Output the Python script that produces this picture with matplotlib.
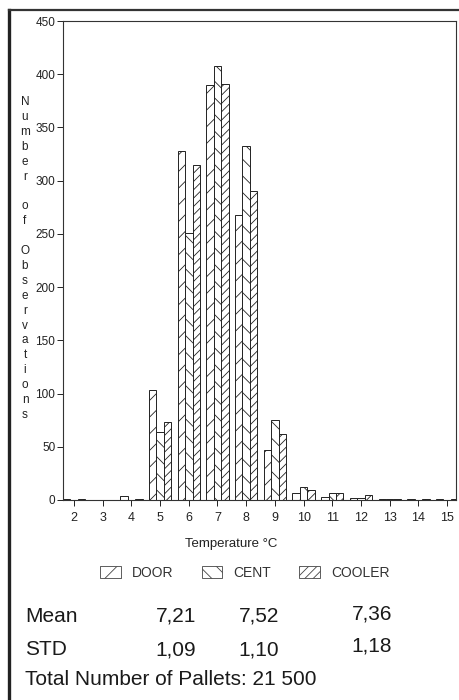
import matplotlib
matplotlib.use("Agg")
import matplotlib.pyplot as plt
import numpy as np
from matplotlib.patches import Patch
from matplotlib.lines import Line2D

plt.rcParams['font.family'] = ['Liberation Sans', 'DejaVu Sans']
plt.rcParams['hatch.linewidth'] = 0.6
plt.rcParams['hatch.color'] = '#333333'

# temperature classes (deg C) and counts per location
temps = [2, 3, 4, 5, 6, 7, 8, 9, 10, 11, 12, 13, 14, 15]
door = [0.5, 0.3, 3.5, 103, 328, 390, 268, 47, 7, 3, 1.5, 1, 0.5, 0.5]
cent = [0.3, 0.2, 0.2, 64, 251, 408, 333, 75, 12, 6.5, 2, 0.5, 0.3, 0.2]
cooler = [0.5, 0.3, 1, 73, 315, 391, 290, 62, 9, 6.5, 4.5, 1, 0.5, 0.5]

series_names = ['DOOR', 'CENT', 'COOLER']
hatches = ['//', '\\\\', '////']
means = ['7,21', '7,52', '7,36']
stds = ['1,09', '1,10', '1,18']
total_text = 'Total Number of Pallets: 21 500'
ylabel_text = 'Number of Observations'

W, H = 460, 700
fig = plt.figure(figsize=(W / 100, H / 100), dpi=100)
fig.patch.set_facecolor('white')

ax = fig.add_axes([63 / W, 1 - 500 / H, (456 - 63) / W, (500 - 21) / H])
x = np.array(temps, dtype=float)
bw = 0.26
for i, (vals, h) in enumerate(zip([door, cent, cooler], hatches)):
    ax.bar(x + (i - 1) * bw, vals, width=bw, facecolor='white', edgecolor='#222222',
           linewidth=0.7, hatch=h)

ax.set_xlim(1.617, 15.31)
ax.set_ylim(0, 450)
ax.set_xticks(temps)
ax.set_yticks(range(0, 451, 50))
ax.tick_params(axis='x', length=4.5, width=0.7, pad=4, labelsize=9, colors='#222222')
ax.tick_params(axis='y', length=4, width=0.7, pad=1.5, labelsize=8.5, colors='#222222')
for s in ax.spines.values():
    s.set_linewidth(0.8)
    s.set_color('#333333')

fig.text(231 / W, 1 - 547 / H, 'Temperature \u00b0C', ha='center', va='baseline',
         fontsize=9.5, color='#222222')

# stacked vertical y label
y0 = 102
for k, ch in enumerate(ylabel_text):
    if ch == ' ':
        continue
    fig.text(25 / W, 1 - (y0 + k * 14.9) / H, ch, ha='center', va='center',
             fontsize=8.5, color='#222222')

handles = [Patch(facecolor='white', edgecolor='#444444', linewidth=0.6, hatch=h)
           for h in hatches]
fig.legend(handles, series_names, loc='center', bbox_to_anchor=(245 / W, 1 - 573 / H),
           ncol=3, frameon=False, fontsize=10, handlelength=1.5, handleheight=1.0,
           handletextpad=0.8, columnspacing=2.0, labelcolor='#333333')

# summary statistics
cols = [176, 259, 372]
fig.text(25 / W, 1 - 622 / H, 'Mean', fontsize=15, va='baseline', color='#1a1a1a')
fig.text(25 / W, 1 - 655 / H, 'STD', fontsize=15, va='baseline', color='#1a1a1a')
for i, (m, s) in enumerate(zip(means, stds)):
    off = -3 if i == 2 else 0
    fig.text(cols[i] / W, 1 - (622 + off) / H, m, fontsize=15, ha='center',
             va='baseline', color='#1a1a1a')
    fig.text(cols[i] / W, 1 - (655 + off) / H, s, fontsize=15, ha='center',
             va='baseline', color='#1a1a1a')
fig.text(25 / W, 1 - 685 / H, total_text, fontsize=15, va='baseline', color='#1a1a1a')

# page frame (left and top rules)
fig.add_artist(Line2D([9.5 / W, 9.5 / W], [0, 1 - 10 / H], color='#222222', linewidth=2.4))
fig.add_artist(Line2D([9.5 / W, 1], [1 - 10 / H, 1 - 10 / H], color='#333333', linewidth=1.6))

fig.savefig('out.png', dpi=100)
